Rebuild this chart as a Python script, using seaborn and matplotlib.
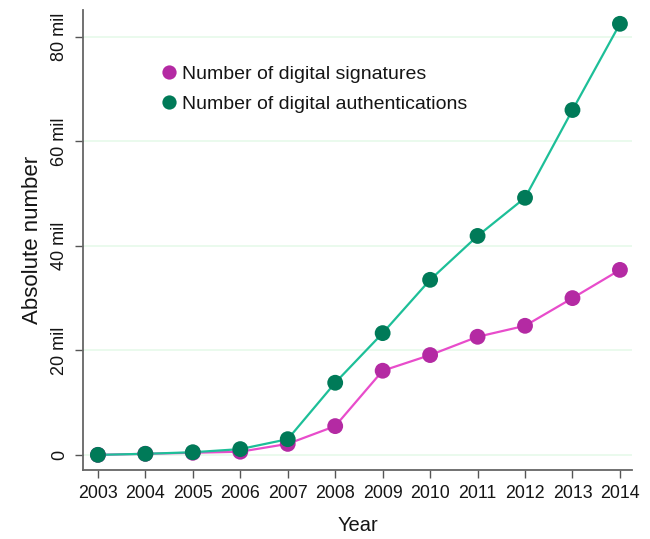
import numpy as np
import pandas as pd
import matplotlib
matplotlib.use("Agg")
import matplotlib.pyplot as plt
import seaborn as sns

# ==================== data ====================
years = [2003, 2004, 2005, 2006, 2007, 2008, 2009, 2010, 2011, 2012, 2013, 2014]
signatures = [0.0, 0.2, 0.4, 0.6, 2.1, 5.5, 16.1, 19.1, 22.6, 24.7, 30.0, 35.4]
authentications = [0.0, 0.2, 0.5, 1.1, 3.0, 13.8, 23.3, 33.5, 41.9, 49.2, 66.0, 82.5]
series_names = ["Number of digital signatures", "Number of digital authentications"]
y_ticks = [0, 20, 40, 60, 80]
y_ticklabels = ["0", "20 mil", "40 mil", "60 mil", "80 mil"]

df = pd.DataFrame({
    "Year": years * 2,
    "value": signatures + authentications,
    "series": [series_names[0]] * len(years) + [series_names[1]] * len(years),
})

line_pal = {series_names[0]: "#e84ccb", series_names[1]: "#1dbf98"}
dot_pal = {series_names[0]: "#b42aa3", series_names[1]: "#007a58"}

# ==================== plot ====================
sns.set_style("white")
plt.rcParams["font.family"] = ["Liberation Sans", "DejaVu Sans"]
plt.rcParams["text.color"] = "#151515"
plt.rcParams["axes.labelcolor"] = "#151515"
plt.rcParams["xtick.labelcolor"] = "#151515"
plt.rcParams["ytick.labelcolor"] = "#151515"

fig, ax = plt.subplots(figsize=(6.5, 5.39), dpi=100)
fig.subplots_adjust(left=0.128, right=0.972, top=0.982, bottom=0.128)

for y in y_ticks:
    ax.axhline(y, color="#e6f9ea", lw=1.2, zorder=0)

sns.lineplot(data=df, x="Year", y="value", hue="series", palette=line_pal,
             lw=1.6, legend=False, ax=ax, zorder=2)
sns.scatterplot(data=df, x="Year", y="value", hue="series", palette=dot_pal,
                s=130, edgecolor="none", ax=ax, zorder=3)

ax.set_xlim(2002.69, 2014.25)
ax.set_ylim(-2.9, 85.2)
ax.set_xticks(years)
ax.set_xticklabels([str(y) for y in years], fontsize=12.8)
ax.set_yticks(y_ticks)
ax.set_yticklabels(y_ticklabels, fontsize=13, rotation=90, va="center")
ax.set_xlabel("Year", fontsize=14.5, labelpad=10)
ax.set_ylabel("Absolute number", fontsize=16, labelpad=6)
ax.tick_params(axis="both", length=6, width=1, color="#555555", direction="out",
               left=True, bottom=True, pad=5)

for side in ["top", "right"]:
    ax.spines[side].set_visible(False)
for side in ["left", "bottom"]:
    ax.spines[side].set_color("#666666")
    ax.spines[side].set_linewidth(1.3)

leg = ax.legend(loc="upper left", bbox_to_anchor=(0.125, 0.896), frameon=False,
                fontsize=14, handlelength=1.0, handletextpad=0.15, labelspacing=0.62,
                markerscale=0.9, borderaxespad=0)

fig.savefig("out.png", dpi=100)
